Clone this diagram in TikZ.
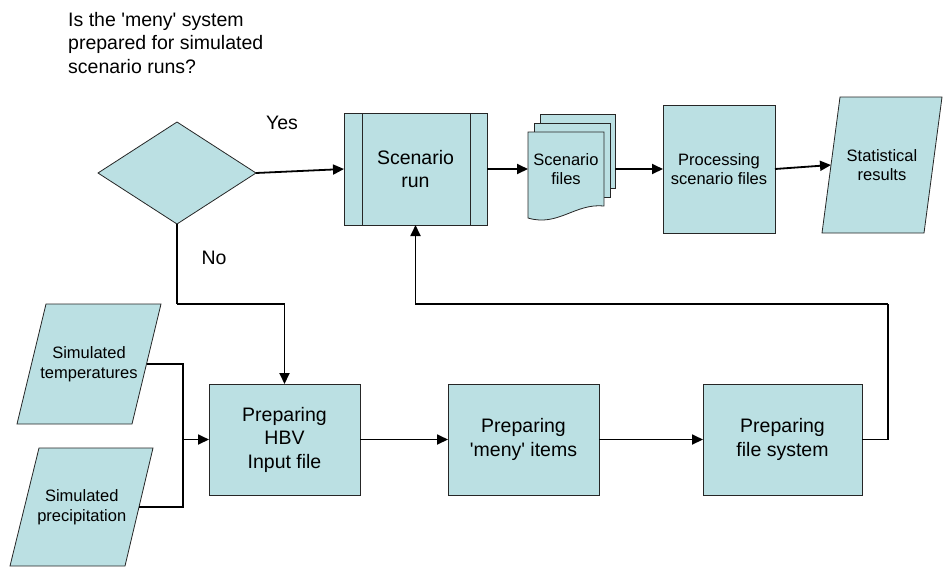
\documentclass[tikz,border=0pt]{standalone}
\usepackage{fontspec}
\setmainfont{Liberation Sans}
\usetikzlibrary{shapes.geometric,arrows.meta}

\definecolor{boxfill}{RGB}{187,224,227}
\newcommand{\boxfont}{\fontsize{19.5}{23.5}\selectfont}
\newcommand{\notefont}{\fontsize{16.5}{19.5}\selectfont}
\newcommand{\sq}{\textquotesingle}

\begin{document}
\begin{tikzpicture}[x=1pt,y=-1pt,
    box/.style={draw=black!85,line width=0.8pt,fill=boxfill,align=center,
      inner sep=0pt,outer sep=0pt,font=\boxfont},
    decision/.style={box,diamond,aspect=1.55,minimum width=158pt,minimum height=102pt},
    note/.style={align=center,inner sep=0pt,outer sep=0pt,font=\notefont},
    page/.style={draw=black!85,line width=0.8pt,fill=boxfill},
    flow/.style={line width=1.8pt,-{Triangle[length=11pt,width=10pt]}},
    link/.style={line width=1.8pt}]

	\useasboundingbox (0,0) rectangle (944,566);

	% question and decision
	\node[anchor=north west,align=left,inner sep=0pt,font=\boxfont] (question) at (68,12)
	  {Is the \sq meny\sq{} system\\prepared for simulated\\scenario runs?};
	\node[decision] (dec) at (177,173) {};
	\node[font=\boxfont,inner sep=0pt] (yes) at (282,123) {Yes};
	\node[font=\boxfont,inner sep=0pt] (no) at (214,258) {No};

	% top row
	\node[box,minimum width=143pt,minimum height=112pt] (run) at (415.5,169) {Scenario\\run};
	\draw[page] ([xshift=18pt]run.north west) -- ([xshift=18pt]run.south west);
	\draw[page] ([xshift=-17pt]run.north east) -- ([xshift=-17pt]run.south east);

	\draw[page] (540,114) rectangle (615,188);
	\draw[page] (534,123) rectangle (610,197);
	\draw[page] (528,132) -- (604,132) -- (604,206)
	  .. controls (575,203) and (558,227) .. (528,218) -- cycle;
	\node[note,minimum width=76pt,minimum height=74pt] (files) at (566,169) {Scenario\\files};
	\coordinate (filesout) at (615,169);

	\node[box,font=\notefont,minimum width=112pt,minimum height=128pt] (proc) at (719,169)
	  {Processing\\scenario files};
	\draw[page] (840,97) -- (942,97) -- (924,233) -- (822,233) -- cycle;
	\node[note,minimum width=102pt,minimum height=136pt] (stat) at (882,165)
	  {Statistical\\results};

	% bottom row
	\draw[page] (46,304) -- (161,304) -- (132,424) -- (17,424) -- cycle;
	\node[note,minimum width=115pt,minimum height=120pt] (temp) at (89,364)
	  {Simulated\\temperatures};
	\draw[page] (39,448) -- (153,448) -- (125,566) -- (10,566) -- cycle;
	\node[note,minimum width=114.5pt,minimum height=118pt] (prec) at (81.75,507)
	  {Simulated\\precipitation};

	\node[box,minimum width=151pt,minimum height=111pt] (hbv) at (284.5,439.5)
	  {Preparing\\HBV\\Input file};
	\node[box,minimum width=151pt,minimum height=111pt] (meny) at (523.5,439.5)
	  {Preparing\\\sq meny\sq{} items};
	\node[box,minimum width=159pt,minimum height=111pt] (fsys) at (782.5,439.5)
	  {Preparing\\file system};

	% connectors
	\coordinate (nobend) at (177,304);
	\coordinate (merge) at (183,439.5);
	\coordinate (loopturn) at (888,304);

	\draw[flow] (dec.east) -- (run.west);
	\draw[flow] (run.east) -- (files.west);
	\draw[flow] (filesout) -- (proc.west);
	\draw[flow] (proc.east) -- (stat.west);
	\draw[link] (dec.south) -- (nobend);
	\draw[flow] (nobend) -| (hbv.north);
	\draw[link] (temp.east) -| (merge);
	\draw[link] (prec.east) -| (merge);
	\draw[flow] (merge) -- (hbv.west);
	\draw[flow] (hbv.east) -- (meny.west);
	\draw[flow] (meny.east) -- (fsys.west);
	\draw[link] (fsys.east) -| (loopturn);
	\draw[flow] (loopturn) -| (run.south);
\end{tikzpicture}
\end{document}
